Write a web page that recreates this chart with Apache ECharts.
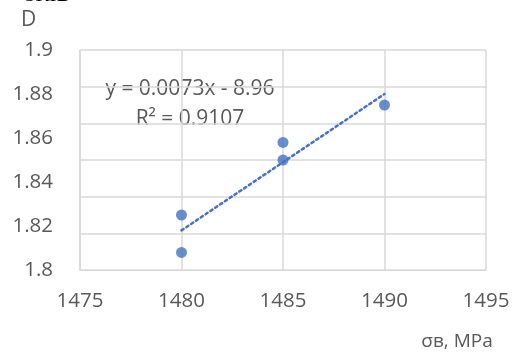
<!DOCTYPE html>
<html>
<head>
<meta charset="utf-8">
<script src="https://cdn.jsdelivr.net/npm/echarts@6/dist/echarts.min.js"></script>
<style>html,body{margin:0;padding:0;background:#fff;}#c{width:517px;height:356px;}</style>
</head>
<body>
<div id="c"></div>
<script>
// Data
var sigmaB = [1480, 1480, 1485, 1485, 1490];       // σв, MPa
var dValues = [1.808, 1.825, 1.850, 1.858, 1.875]; // D
var trendX = [1480, 1490];
var trendY = [1.818, 1.880];
var xTicks = [1475, 1480, 1485, 1490, 1495];
var yTicks = [1.8, 1.82, 1.84, 1.86, 1.88, 1.9];
var equationText = 'y = 0.0073x - 8.96';
var r2Text = 'R² = 0.9107';

var points = sigmaB.map(function (x, i) { return [x, dValues[i]]; });
var trend = trendX.map(function (x, i) { return [x, trendY[i]]; });

var font = '"Open Sans", "Noto Sans", sans-serif';
var grey = '#595959';
var gridC = '#d9d9d9';
var blue = '#4472C4';

var chart = echarts.init(document.getElementById('c'), null, {renderer: 'canvas'});
chart.setOption({
  animation: false,
  backgroundColor: '#fff',
  grid: {left: 80, right: 31, top: 50, bottom: 86, containLabel: false},
  xAxis: {
    type: 'value', min: xTicks[0], max: xTicks[xTicks.length - 1], interval: 5,
    axisLine: {show: true, lineStyle: {color: gridC, width: 1}},
    axisTick: {show: false},
    axisLabel: {color: grey, fontFamily: font, fontSize: 20.5, margin: 21,
      formatter: function (v) { return String(v); }},
    splitLine: {show: true, lineStyle: {color: gridC, width: 1.5}}
  },
  yAxis: [{
    type: 'value', min: yTicks[0], max: yTicks[yTicks.length - 1], interval: 0.02,
    axisLine: {show: true, lineStyle: {color: gridC, width: 1.5}},
    axisTick: {show: false},
    axisLabel: {color: grey, fontFamily: font, fontSize: 20.5, margin: 27,
      formatter: function (v) { return String(+v.toFixed(2)); }},
    splitLine: {show: false}
  }, {
    type: 'value', min: 0, max: 6, interval: 1, position: 'left',
    axisLine: {show: false}, axisTick: {show: false}, axisLabel: {show: false},
    splitLine: {show: true, lineStyle: {color: gridC, width: 1.5}}
  }],
  series: [{
    type: 'line', data: trend, yAxisIndex: 0, symbol: 'none', silent: true,
    lineStyle: {color: blue, width: 2.5, type: [2.5, 3.3], cap: 'round'}, z: 2
  }, {
    type: 'scatter', data: points, yAxisIndex: 0, symbol: 'circle', symbolSize: 11,
    itemStyle: {color: blue}, z: 3
  }],
  graphic: [
    {type: 'text', left: 21, top: 10, style: {text: 'D', fill: grey, font: '21px ' + font}},
    {type: 'text', x: 25, y: 6, style: {text: 'ЗКІВ', fill: '#000', font: '21px "Liberation Serif", serif', verticalAlign: 'bottom'}},
    {type: 'text', x: 190, y: 89, style: {text: equationText, fill: grey, font: '21px ' + font, align: 'center', verticalAlign: 'middle'}},
    {type: 'text', x: 190, y: 119, style: {text: r2Text, fill: grey, font: '21px ' + font, align: 'center', verticalAlign: 'middle'}},
    {type: 'text', x: 457, y: 342, style: {text: 'σв, MPa', fill: grey, font: '19px ' + font, align: 'center', verticalAlign: 'middle'}}
  ]
});
</script>
</body>
</html>
